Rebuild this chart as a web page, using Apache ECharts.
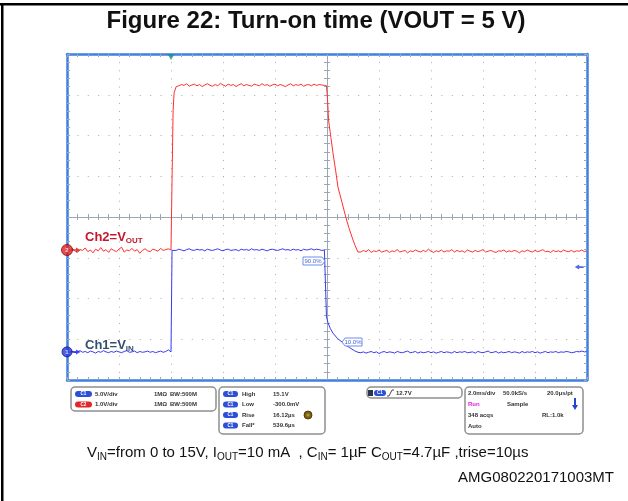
<!DOCTYPE html>
<html>
<head>
<meta charset="utf-8">
<title>Figure 22: Turn-on time (VOUT = 5 V)</title>
<script src="https://cdn.jsdelivr.net/npm/echarts@6/dist/echarts.min.js"></script>
<style>
  html, body { margin: 0; padding: 0; background: #fff; }
  #main { width: 628px; height: 501px; }
</style>
</head>
<body>
<div id="main"></div>
<script>
  // time axis in ms (2.0 ms/div, trigger 2 div from the left), vertical axis in screen divisions
  const timeMin = -4
  const timeMax = 16
  const timeStep = 2
  const divMin = -4
  const divMax = 4
  const sampleStep = 0.1

  // Ch2 = VOUT (red trace)
  const redBefore = [ // t = -4.0 .. 0.0
    -0.79, -0.84, -0.77, -0.83, -0.87, -0.80, -0.82, -0.76, -0.85, -0.81,
    -0.88, -0.79, -0.83, -0.75, -0.84, -0.80, -0.87, -0.78, -0.82, -0.85,
    -0.79, -0.74, -0.86, -0.81, -0.83, -0.77, -0.84, -0.80, -0.89, -0.82,
    -0.78, -0.83, -0.85, -0.79, -0.81, -0.84, -0.77, -0.82, -0.80, -0.78, -0.81
  ]
  const redRise = [[0.06, -0.81], [0.08, 2.6], [0.12, 3.05], [0.2, 3.2]]
  const redHigh = [ // t = 0.3 .. 5.9
    3.22, 3.25, 3.23, 3.27, 3.21, 3.24, 3.26, 3.22, 3.25, 3.20,
    3.24, 3.27, 3.23, 3.21, 3.25, 3.22, 3.28, 3.24, 3.21, 3.26,
    3.23, 3.25, 3.20, 3.24, 3.27, 3.22, 3.25, 3.23, 3.21, 3.26,
    3.24, 3.22, 3.27, 3.23, 3.25, 3.21, 3.24, 3.26, 3.22, 3.25,
    3.23, 3.20, 3.24, 3.27, 3.22, 3.25, 3.23, 3.26, 3.21, 3.24,
    3.25, 3.22, 3.26, 3.23, 3.25, 3.24, 3.23
  ]
  const redFall = [
    [5.98, 3.22], [6.02, 2.9], [6.06, 2.38], [6.15, 1.95], [6.23, 1.57], [6.33, 1.15],
    [6.42, 0.74], [6.58, 0.35], [6.73, -0.02], [6.85, -0.28], [6.96, -0.49], [7.08, -0.70], [7.19, -0.86]
  ]
  const redLow = [ // t = 7.3 .. 16.0
    -0.86, -0.82, -0.85, -0.80, -0.87, -0.83, -0.85, -0.81, -0.86, -0.84,
    -0.82, -0.87, -0.83, -0.85, -0.80, -0.86, -0.84, -0.82, -0.88, -0.83,
    -0.85, -0.81, -0.84, -0.86, -0.82, -0.85, -0.79, -0.84, -0.87, -0.83,
    -0.85, -0.81, -0.86, -0.83, -0.84, -0.80, -0.86, -0.82, -0.85, -0.83,
    -0.87, -0.81, -0.84, -0.86, -0.82, -0.85, -0.83, -0.80, -0.86, -0.84,
    -0.82, -0.85, -0.87, -0.83, -0.84, -0.81, -0.86, -0.83, -0.85, -0.82,
    -0.84, -0.88, -0.83, -0.85, -0.81, -0.84, -0.86, -0.82, -0.85, -0.83,
    -0.80, -0.85, -0.84, -0.87, -0.82, -0.85, -0.83, -0.86, -0.81, -0.84,
    -0.85, -0.82, -0.86, -0.83, -0.84, -0.81, -0.85, -0.83
  ]

  // Ch1 = VIN (blue trace)
  const blueBefore = [ // t = -4.0 .. 0.0
    -3.30, -3.32, -3.29, -3.33, -3.31, -3.28, -3.32, -3.30, -3.33, -3.29,
    -3.31, -3.34, -3.30, -3.32, -3.28, -3.31, -3.33, -3.30, -3.32, -3.29,
    -3.31, -3.33, -3.30, -3.28, -3.32, -3.31, -3.29, -3.33, -3.30, -3.32,
    -3.31, -3.29, -3.32, -3.30, -3.33, -3.31, -3.29, -3.32, -3.30, -3.26, -3.31
  ]
  const blueRise = [[0.02, -3.31], [0.04, -0.82]]
  const blueHigh = [ // t = 0.1 .. 5.9
    -0.80, -0.82, -0.79, -0.81, -0.83, -0.80, -0.78, -0.81, -0.82, -0.79,
    -0.81, -0.80, -0.83, -0.79, -0.81, -0.82, -0.80, -0.78, -0.81, -0.83,
    -0.80, -0.79, -0.82, -0.81, -0.80, -0.83, -0.79, -0.81, -0.80, -0.82,
    -0.78, -0.81, -0.80, -0.82, -0.79, -0.81, -0.83, -0.80, -0.79, -0.81,
    -0.82, -0.80, -0.78, -0.81, -0.80, -0.82, -0.79, -0.81, -0.80, -0.83,
    -0.79, -0.81, -0.80, -0.78, -0.81, -0.79, -0.80, -0.82, -0.81
  ]
  const blueFall = [
    [5.96, -0.80], [5.98, -2.45], [6.04, -2.60], [6.13, -2.74], [6.23, -2.85], [6.4, -2.98],
    [6.58, -3.07], [6.73, -3.15], [6.88, -3.21], [7.05, -3.28], [7.19, -3.32]
  ]
  const blueLow = [ // t = 7.3 .. 16.0
    -3.33, -3.31, -3.34, -3.32, -3.30, -3.33, -3.31, -3.35, -3.32, -3.30,
    -3.33, -3.31, -3.32, -3.34, -3.30, -3.32, -3.33, -3.31, -3.29, -3.33,
    -3.32, -3.30, -3.34, -3.31, -3.33, -3.32, -3.30, -3.33, -3.31, -3.34,
    -3.32, -3.30, -3.33, -3.31, -3.32, -3.34, -3.30, -3.33, -3.31, -3.32,
    -3.30, -3.33, -3.32, -3.31, -3.34, -3.30, -3.32, -3.33, -3.31, -3.29,
    -3.33, -3.32, -3.30, -3.34, -3.31, -3.33, -3.32, -3.30, -3.33, -3.31,
    -3.32, -3.34, -3.30, -3.33, -3.31, -3.32, -3.30, -3.33, -3.31, -3.34,
    -3.32, -3.30, -3.33, -3.31, -3.32, -3.30, -3.33, -3.31, -3.32, -3.30,
    -3.31, -3.33, -3.32, -3.30, -3.31, -3.29, -3.31, -3.30
  ]

  // channel ground markers, trigger point, trigger level arrow
  const ch2Marker = [[-4, -0.81]]
  const ch1Marker = [[-4, -3.31]]
  const triggerMark = [[0, 4]]
  const levelArrow = [[15.7, -1.23]]

  function segment(values, t0) {
    return values.map(function (v, i) { return [+(t0 + i * sampleStep).toFixed(2), v] })
  }

  const redData = [].concat(segment(redBefore, -4), redRise, segment(redHigh, 0.3), redFall, segment(redLow, 7.3))
  const blueData = [].concat(segment(blueBefore, -4), blueRise, segment(blueHigh, 0.1), blueFall, segment(blueLow, 7.3))

  const FONT = '"Liberation Sans", Arial, sans-serif'
  const crossColor = '#9ca6b6'
  const frameBlue = '#3f7fe0'

  function txt(x, y, text, extra) {
    let style = {text: text, font: 'bold 6px ' + FONT, fill: '#333', align: 'left', verticalAlign: 'middle'}
    for (let k in (extra || {})) style[k] = extra[k]
    return {type: 'text', x: x, y: y, z: 20, style: style}
  }
  function pill(x, y, w, label, color) {
    return [
      {type: 'rect', z: 20, shape: {x: x, y: y, width: w, height: 6, r: 3}, style: {fill: color}},
      txt(x + w / 2, y + 3.2, label, {fill: '#fff', font: 'bold 4.5px ' + FONT, align: 'center'})
    ]
  }
  function panel(x, y, w, h) {
    return {type: 'rect', z: 15, shape: {x: x, y: y, width: w, height: h, r: 4},
      style: {fill: '#fff', stroke: '#8f8f8f', lineWidth: 1.5}}
  }

  let graphics = [
    // page frame
    {type: 'rect', shape: {x: 0, y: 3, width: 628, height: 2.5}, style: {fill: '#000'}},
    {type: 'rect', shape: {x: 1, y: 3, width: 2.5, height: 498}, style: {fill: '#000'}},
    txt(316, 21, 'Figure 22: Turn-on time (VOUT = 5 V)', {font: 'bold 24px ' + FONT, fill: '#111', align: 'center'}),
    // channel labels
    {type: 'text', x: 85, y: 237, z: 20, style: {
      text: '{b|Ch2=V}{s|OUT}', verticalAlign: 'middle',
      rich: {b: {font: 'bold 13px ' + FONT, fill: '#c4182c', lineHeight: 16},
             s: {font: 'bold 8px ' + FONT, fill: '#c4182c', lineHeight: 9, verticalAlign: 'bottom'}}
    }},
    {type: 'text', x: 85, y: 345, z: 20, style: {
      text: '{b|Ch1=V}{s|IN}', verticalAlign: 'middle',
      rich: {b: {font: 'bold 13px ' + FONT, fill: '#34506e', lineHeight: 16},
             s: {font: 'bold 8px ' + FONT, fill: '#34506e', lineHeight: 9, verticalAlign: 'bottom'}}
    }},
    // 90% / 10% cursors
    {type: 'polygon', z: 20, shape: {points: [[303, 257], [322, 257], [325, 261], [322, 265], [303, 265]]},
      style: {fill: '#fff', stroke: '#6f8fe6', lineWidth: 1}},
    txt(304.5, 261.3, '90.0%', {fill: '#4a63d8', font: '6px ' + FONT}),
    {type: 'polygon', z: 20, shape: {points: [[345, 338], [362, 338], [362, 346], [345, 346], [342, 342]]},
      style: {fill: '#fff', stroke: '#6f8fe6', lineWidth: 1}},
    txt(344.5, 342.3, '10.0%', {fill: '#4a63d8', font: '6px ' + FONT}),

    // info panels
    panel(71, 387, 145, 24),
    panel(219, 387, 106, 47),
    panel(367, 387, 95, 11),
    panel(465, 387, 118, 47),

    txt(95, 394, '5.0V/div'), txt(154, 394, '1MΩ'), txt(170, 394, 'BW:500M'),
    txt(95, 404.5, '1.0V/div'), txt(154, 404.5, '1MΩ'), txt(170, 404.5, 'BW:500M'),

    txt(242, 394, 'High'), txt(273, 394, '15.1V'),
    txt(242, 404.5, 'Low'), txt(273, 404.5, '-300.0mV'),
    txt(242, 415, 'Rise'), txt(273, 415, '16.12µs'),
    txt(242, 425.5, 'Fall*'), txt(273, 425.5, '539.6µs'),
    {type: 'circle', z: 20, shape: {cx: 308, cy: 415, r: 4}, style: {fill: '#8a5a12', stroke: '#3d2a05', lineWidth: 0.8}},
    {type: 'circle', z: 21, shape: {cx: 308, cy: 415, r: 1.6}, style: {fill: '#7fb030'}},

    {type: 'rect', z: 20, shape: {x: 368, y: 390, width: 5, height: 6}, style: {fill: '#2a3550'}},
    {type: 'polyline', z: 20, shape: {points: [[387, 396], [389, 396], [392, 390], [394, 390]]},
      style: {stroke: '#333', lineWidth: 0.9, fill: null}},
    txt(396, 393.2, '12.7V'),

    txt(468, 393, '2.0ms/div'), txt(503, 393, '50.0kS/s'), txt(547, 393, '20.0µs/pt'),
    txt(468, 404, 'Run', {fill: '#e020e0'}), txt(507, 404, 'Sample'),
    {type: 'line', z: 20, shape: {x1: 575, y1: 398, x2: 575, y2: 406}, style: {stroke: '#2845d0', lineWidth: 2}},
    {type: 'polygon', z: 20, shape: {points: [[572, 405], [578, 405], [575, 410]]}, style: {fill: '#2845d0'}},
    txt(468, 415, '348 acqs'), txt(542, 415, 'RL:1.0k'),
    txt(468, 426, 'Auto'),

    // test conditions and reference
    {type: 'text', x: 87, y: 453, z: 20, style: {
      text: '{n|V}{s|IN}{n|=from 0 to 15V, I}{s|OUT}{n|=10 mA  , C}{s|IN}{n|= 1µF C}{s|OUT}{n|=4.7µF ,trise=10µs}',
      verticalAlign: 'middle',
      rich: {n: {font: '15px ' + FONT, fill: '#111', lineHeight: 18},
             s: {font: '10px ' + FONT, fill: '#111', lineHeight: 11, verticalAlign: 'bottom'}}
    }},
    txt(614, 478, 'AMG080220171003MT', {font: '15px ' + FONT, fill: '#111', align: 'right'})
  ]
  graphics = graphics.concat(
    pill(75, 391, 17, 'C1', '#2c4fd8'),
    pill(75, 401.5, 17, 'C2', '#e02a2a'),
    pill(223, 391, 15, 'C1', '#2c4fd8'),
    pill(223, 401.5, 15, 'C1', '#2c4fd8'),
    pill(223, 412, 15, 'C1', '#2c4fd8'),
    pill(223, 422.5, 15, 'C1', '#2c4fd8'),
    pill(374, 390, 12, 'C1', '#2c4fd8')
  )

  const minor = {show: true, splitNumber: 5, length: 3, lineStyle: {color: crossColor}}
  function crossX(idx, min, max, interval, position, yIdx, split) {
    return {
      type: 'value', gridIndex: 0, min: min, max: max, interval: interval, position: position,
      axisLine: {show: true, onZero: true, onZeroAxisIndex: yIdx, lineStyle: {color: crossColor, width: 1}},
      axisTick: {show: true, inside: true, length: 3, lineStyle: {color: crossColor}},
      minorTick: minor,
      axisLabel: {show: false},
      splitLine: {show: split, lineStyle: {color: '#aaaaaa', type: [1, 7.15]}}
    }
  }
  function crossY(position, split) {
    return {
      type: 'value', gridIndex: 0, min: divMin, max: divMax, interval: 1, position: position,
      axisLine: {show: true, onZero: true, onZeroAxisIndex: 1, lineStyle: {color: crossColor, width: 1}},
      axisTick: {show: true, inside: true, length: 3, lineStyle: {color: crossColor}},
      minorTick: minor,
      axisLabel: {show: false},
      splitLine: {show: split, lineStyle: {color: '#aaaaaa', type: [1, 9.4]}}
    }
  }
  function frameAxis(position, isX) {
    return {
      type: 'value', gridIndex: 1, position: position, z: 6,
      min: isX ? -5 : divMin, max: isX ? 5 : divMax, interval: 1,
      axisLine: {show: true, onZero: false, lineStyle: {color: frameBlue, width: 2.5}},
      axisTick: {show: true, inside: true, length: 3, lineStyle: {color: crossColor}},
      minorTick: minor,
      axisLabel: {show: false},
      splitLine: {show: false}
    }
  }

  let chart = echarts.init(document.getElementById('main'))
  chart.setOption({
    animation: false,
    backgroundColor: '#fff',
    grid: [
      {left: 67, top: 54, width: 520, height: 326},
      {left: 67, top: 54, width: 520, height: 326}
    ],
    xAxis: [
      crossX(0, timeMin, timeMax, timeStep, 'bottom', 0, true),
      crossX(1, -5, 5, 1, 'top', 0, false),
      frameAxis('bottom', true),
      frameAxis('top', true)
    ],
    yAxis: [
      crossY('left', true),
      crossY('right', false),
      frameAxis('left', false),
      frameAxis('right', false)
    ],
    series: [
      {
        name: 'Ch2 VOUT', type: 'line', xAxisIndex: 0, yAxisIndex: 0, z: 3,
        showSymbol: false, data: redData,
        lineStyle: {color: '#ff3030', width: 1}
      },
      {
        name: 'Ch1 VIN', type: 'line', xAxisIndex: 0, yAxisIndex: 0, z: 4,
        showSymbol: false, data: blueData,
        lineStyle: {color: '#3a3af2', width: 1}
      },
      {
        type: 'scatter', xAxisIndex: 0, yAxisIndex: 0, z: 10, data: triggerMark,
        symbol: 'triangle', symbolRotate: 180, symbolSize: [7, 6], symbolOffset: [0, 3],
        itemStyle: {color: '#168c8c'}
      },
      {
        type: 'scatter', xAxisIndex: 0, yAxisIndex: 0, z: 10, data: levelArrow,
        symbol: 'path://M0,3 L5,0 L5,2 L10,2 L10,4 L5,4 L5,6 Z', symbolSize: [9, 5],
        itemStyle: {color: '#2845d0'}
      },
      {
        type: 'scatter', xAxisIndex: 0, yAxisIndex: 0, z: 11, data: ch2Marker,
        symbol: 'path://M0,2 L5,2 L5,0 L10,3 L5,6 L5,4 L0,4 Z', symbolSize: [9, 5], symbolOffset: [9, 0],
        itemStyle: {color: '#d01818'}
      },
      {
        type: 'scatter', xAxisIndex: 0, yAxisIndex: 0, z: 12, data: ch2Marker,
        symbol: 'circle', symbolSize: 11,
        itemStyle: {color: '#e42020', borderColor: '#7a1010', borderWidth: 1},
        label: {show: true, position: 'inside', formatter: '2', color: '#fff', fontSize: 6, fontWeight: 'bold'}
      },
      {
        type: 'scatter', xAxisIndex: 0, yAxisIndex: 0, z: 11, data: ch1Marker,
        symbol: 'path://M0,2 L5,2 L5,0 L10,3 L5,6 L5,4 L0,4 Z', symbolSize: [9, 5], symbolOffset: [9, 0],
        itemStyle: {color: '#2030d8'}
      },
      {
        type: 'scatter', xAxisIndex: 0, yAxisIndex: 0, z: 12, data: ch1Marker,
        symbol: 'circle', symbolSize: 10,
        itemStyle: {color: '#2434e0', borderColor: '#101a80', borderWidth: 1},
        label: {show: true, position: 'inside', formatter: '1', color: '#fff', fontSize: 6, fontWeight: 'bold'}
      }
    ],
    graphic: graphics
  })
</script>
</body>
</html>
